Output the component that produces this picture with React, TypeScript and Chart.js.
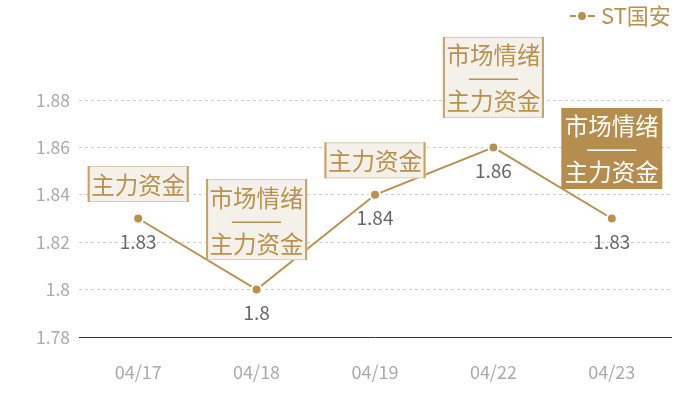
import React, { useEffect, useRef } from "react";
import { Chart, registerables } from "chart.js";

Chart.register(...registerables);

const categories = ["04/17", "04/18", "04/19", "04/22", "04/23"];
const seriesName = "ST国安";
const values = [1.83, 1.8, 1.84, 1.86, 1.83];
const yTicks = [1.78, 1.8, 1.82, 1.84, 1.86, 1.88];
const annotationLines: string[][] = [
  ["主力资金"],
  ["市场情绪", "——", "主力资金"],
  ["主力资金"],
  ["市场情绪", "——", "主力资金"],
  ["市场情绪", "——", "主力资金"],
];
const annotationHighlight = [false, false, false, false, true];

const GOLD = "#b8914f";
const FONT = "'Noto Sans CJK SC', 'Noto Sans', sans-serif";

const overlayPlugin = {
  id: "overlay",
  afterDatasetsDraw(chart: any) {
    const ctx = chart.ctx;
    const meta = chart.getDatasetMeta(0);
    ctx.save();
    // value labels
    ctx.font = `19px ${FONT}`;
    ctx.fillStyle = "#666666";
    ctx.textAlign = "center";
    ctx.textBaseline = "middle";
    meta.data.forEach((pt: any, i: number) => {
      ctx.fillText(String(values[i]), pt.x, pt.y + 23);
    });
    // annotation boxes
    meta.data.forEach((pt: any, i: number) => {
      const lines = annotationLines[i];
      const multi = lines.length > 1;
      const lh = 23;
      const h = multi ? 81 : 36;
      const w = 101;
      const bottom = pt.y - (multi ? 29.5 : 16.5);
      const top = bottom - h;
      const left = pt.x - w / 2;
      const hl = annotationHighlight[i];
      ctx.fillStyle = hl ? "#b58e4f" : "#f4f0ea";
      ctx.fillRect(left, top, w, h);
      if (!hl) {
        ctx.strokeStyle = "#e0cdb0";
        ctx.lineWidth = 1;
        ctx.strokeRect(left + 0.5, top + 0.5, w - 1, h - 1);
        ctx.fillStyle = "#c6a268";
        ctx.fillRect(left, top, 2, h);
        ctx.fillRect(left + w - 2, top, 2, h);
      }
      const color = hl ? "#ffffff" : GOLD;
      ctx.fillStyle = color;
      ctx.font = `23.5px ${FONT}`;
      const cy = top + h / 2;
      const startY = cy - ((lines.length - 1) * lh) / 2;
      lines.forEach((t, k) => {
        const y = startY + k * lh + 1;
        if (/^—+$/.test(t)) {
          // stretched dash line
          const m = ctx.measureText(t).width;
          ctx.save();
          ctx.translate(pt.x, y - 1);
          ctx.scale(52 / Math.max(m, 1), 1);
          ctx.fillText(t, 0, 0);
          ctx.restore();
        } else {
          ctx.fillText(t, pt.x, y);
        }
      });
    });
    // legend
    ctx.strokeStyle = GOLD;
    ctx.lineWidth = 2;
    ctx.beginPath();
    ctx.moveTo(570, 16);
    ctx.lineTo(595, 16);
    ctx.stroke();
    ctx.beginPath();
    ctx.arc(582, 16, 5, 0, Math.PI * 2);
    ctx.fillStyle = GOLD;
    ctx.fill();
    ctx.strokeStyle = "#ffffff";
    ctx.lineWidth = 2;
    ctx.stroke();
    ctx.fillStyle = GOLD;
    ctx.font = `22px ${FONT}`;
    ctx.textAlign = "left";
    ctx.fillText(seriesName, 601, 16);
    ctx.restore();
  },
};

export default function App() {
  const ref = useRef<HTMLCanvasElement>(null);
  useEffect(() => {
    if (!ref.current) return;
    const chart = new Chart(ref.current, {
      type: "line",
      data: {
        labels: categories,
        datasets: [
          {
            label: seriesName,
            data: values,
            borderColor: GOLD,
            backgroundColor: GOLD,
            borderWidth: 2,
            pointRadius: 5,
            pointBorderWidth: 2,
            pointBorderColor: "#ffffff",
            pointBackgroundColor: GOLD,
            tension: 0,
          },
        ],
      },
      options: {
        animation: false,
        responsive: false,
        devicePixelRatio: 1,
        layout: { padding: { top: 100, right: 29, left: 0, bottom: 0 } },
        plugins: { legend: { display: false }, tooltip: { enabled: false } },
        scales: {
          x: {
            offset: true,
            grid: { display: false, drawTicks: false },
            border: { display: true, color: "#333333", width: 1 },
            ticks: {
              color: "#aaaaaa",
              font: { size: 18, family: FONT },
              padding: 24,
            },
            afterFit(scale: any) {
              scale.height = 63;
            },
          },
          y: {
            min: yTicks[0],
            max: yTicks[yTicks.length - 1],
            afterBuildTicks(scale: any) {
              scale.ticks = yTicks.map((v) => ({ value: v }));
            },
            grid: {
              drawTicks: false,
              color: (c: any) => (c.tick && c.tick.value === yTicks[0] ? "rgba(0,0,0,0)" : "#cccccc"),
              lineWidth: 1,
            },
            border: { display: false, dash: [3, 3] },
            ticks: {
              color: "#aaaaaa",
              font: { size: 17.5, family: FONT },
              padding: 9,
              callback: (v: any) => String(Number(Number(v).toFixed(2))),
            },
            afterFit(scale: any) {
              scale.width = 79;
            },
          },
        },
      } as any,
      plugins: [overlayPlugin],
    });
    return () => chart.destroy();
  }, []);
  return (
    <div style={{ position: "fixed", left: 0, top: 0, width: 700, height: 400, background: "#fff" }}>
      <canvas ref={ref} width={700} height={400} style={{ width: 700, height: 400, display: "block" }} />
    </div>
  );
}
